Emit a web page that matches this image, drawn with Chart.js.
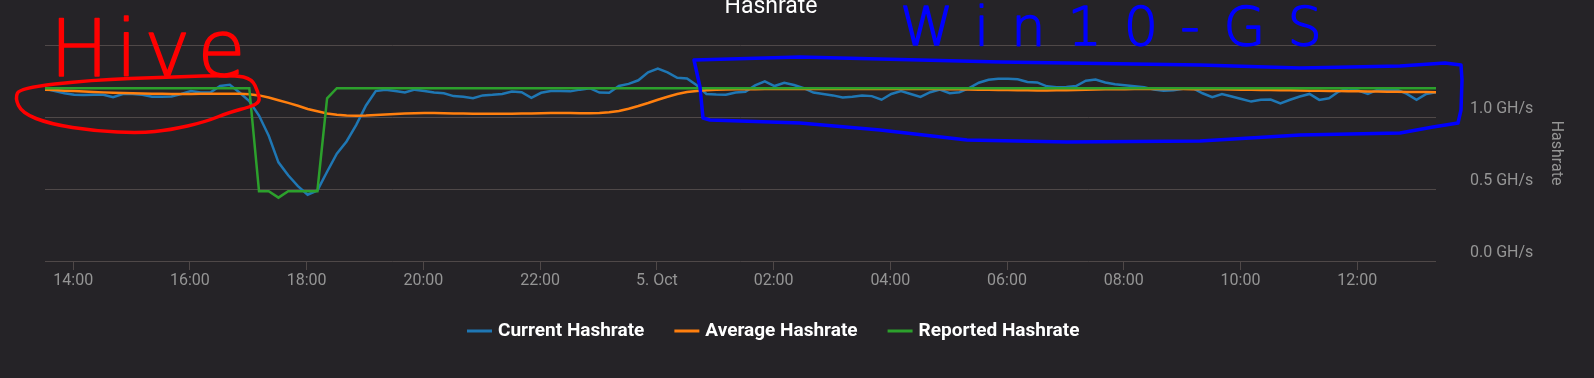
<!DOCTYPE html>
<html>
<head>
<meta charset="utf-8">
<script src="https://cdn.jsdelivr.net/npm/chart.js@4.4.1/dist/chart.umd.min.js"></script>
<style>
  html, body { margin: 0; padding: 0; background: #252327; }
  #wrap { width: 1594px; height: 378px; position: relative; }
</style>
</head>
<body>
<div id="wrap"><canvas id="hashChart"></canvas></div>
<script>
// samples every 10 minutes, first one at 13:31 (hours since 4 Oct 00:00)
const startHour = 13 + 31 / 60;
const stepHours = 10 / 60;

const currentHashrate = [
  1.196, 1.18, 1.165, 1.155, 1.152, 1.155, 1.155, 1.138, 1.16, 1.16,
  1.155, 1.14, 1.14, 1.142, 1.16, 1.18, 1.17, 1.17, 1.215, 1.224,
  1.17, 1.11, 1.01, 0.87, 0.685, 0.595, 0.52, 0.46, 0.49, 0.62,
  0.745, 0.83, 0.945, 1.08, 1.18, 1.19, 1.18, 1.17, 1.19, 1.18,
  1.17, 1.165, 1.145, 1.14, 1.13, 1.15, 1.154, 1.16, 1.177, 1.172,
  1.133, 1.168, 1.18, 1.18, 1.178, 1.19, 1.2, 1.17, 1.168, 1.215,
  1.23, 1.255, 1.31, 1.336, 1.31, 1.272, 1.268, 1.22, 1.16, 1.156,
  1.154, 1.17, 1.175, 1.219, 1.247, 1.215, 1.238, 1.222, 1.2, 1.17,
  1.16, 1.15, 1.136, 1.14, 1.149, 1.145, 1.12, 1.16, 1.18, 1.16,
  1.14, 1.172, 1.19, 1.165, 1.172, 1.2, 1.238, 1.258, 1.265, 1.266,
  1.262, 1.243, 1.24, 1.213, 1.206, 1.208, 1.215, 1.252, 1.26, 1.24,
  1.228, 1.22, 1.213, 1.206, 1.19, 1.182, 1.185, 1.196, 1.2, 1.165,
  1.138, 1.16, 1.142, 1.125, 1.107, 1.12, 1.121, 1.095, 1.12, 1.142,
  1.16, 1.119, 1.13, 1.177, 1.2, 1.184, 1.16, 1.19, 1.19, 1.19,
  1.16, 1.119, 1.16, 1.172
];

const averageHashrate = [
  1.19, 1.187, 1.183, 1.18, 1.177, 1.174, 1.171, 1.169, 1.167, 1.165,
  1.164, 1.162, 1.161, 1.16, 1.16, 1.16, 1.161, 1.162, 1.162, 1.162,
  1.161, 1.158, 1.15, 1.135, 1.116, 1.098, 1.078, 1.056, 1.04, 1.025,
  1.015, 1.01, 1.008, 1.01, 1.014, 1.018, 1.021, 1.024, 1.026, 1.027,
  1.028, 1.026, 1.025, 1.024, 1.023, 1.022, 1.022, 1.022, 1.023, 1.024,
  1.025, 1.026, 1.027, 1.027, 1.027, 1.026, 1.026, 1.028, 1.033, 1.042,
  1.057, 1.076, 1.097, 1.12, 1.141, 1.16, 1.173, 1.181, 1.186, 1.189,
  1.191, 1.192, 1.193, 1.193, 1.194, 1.194, 1.194, 1.195, 1.195, 1.195,
  1.195, 1.195, 1.195, 1.195, 1.195, 1.195, 1.195, 1.195, 1.195, 1.195,
  1.195, 1.194, 1.194, 1.193, 1.192, 1.191, 1.19, 1.189, 1.188, 1.187,
  1.186, 1.185, 1.184, 1.184, 1.185, 1.186, 1.188, 1.19, 1.191, 1.192,
  1.193, 1.193, 1.194, 1.194, 1.194, 1.194, 1.194, 1.194, 1.193, 1.193,
  1.192, 1.192, 1.191, 1.19, 1.189, 1.188, 1.187, 1.186, 1.185, 1.184,
  1.183, 1.182, 1.181, 1.18, 1.179, 1.178, 1.177, 1.177, 1.176, 1.175,
  1.174, 1.173, 1.173, 1.172
];

const reportedHashrate = [
  1.2, 1.2, 1.2, 1.2, 1.2, 1.2, 1.2, 1.2, 1.2, 1.2,
  1.2, 1.2, 1.2, 1.2, 1.2, 1.2, 1.2, 1.2, 1.2, 1.2,
  1.2, 1.2, 0.485, 0.485, 0.44, 0.485, 0.485, 0.485, 0.485, 1.13,
  1.2, 1.2, 1.2, 1.2, 1.2, 1.2, 1.2, 1.2, 1.2, 1.2,
  1.2, 1.2, 1.2, 1.2, 1.2, 1.2, 1.2, 1.2, 1.2, 1.2,
  1.2, 1.2, 1.2, 1.2, 1.2, 1.2, 1.2, 1.2, 1.2, 1.2,
  1.2, 1.2, 1.2, 1.2, 1.2, 1.2, 1.2, 1.2, 1.2, 1.2,
  1.2, 1.2, 1.2, 1.2, 1.2, 1.2, 1.2, 1.2, 1.2, 1.2,
  1.2, 1.2, 1.2, 1.2, 1.2, 1.2, 1.2, 1.2, 1.2, 1.2,
  1.2, 1.2, 1.2, 1.2, 1.2, 1.2, 1.2, 1.2, 1.2, 1.2,
  1.2, 1.2, 1.2, 1.2, 1.2, 1.2, 1.2, 1.2, 1.2, 1.2,
  1.2, 1.2, 1.2, 1.2, 1.2, 1.2, 1.2, 1.2, 1.2, 1.2,
  1.2, 1.2, 1.2, 1.2, 1.2, 1.2, 1.2, 1.2, 1.2, 1.2,
  1.2, 1.2, 1.2, 1.2, 1.2, 1.2, 1.2, 1.2, 1.2, 1.2,
  1.2, 1.2, 1.2, 1.2
];

const tickHours = [14, 16, 18, 20, 22, 24, 26, 28, 30, 32, 34, 36];
const tickLabels = ['14:00', '16:00', '18:00', '20:00', '22:00', '5. Oct',
                    '02:00', '04:00', '06:00', '08:00', '10:00', '12:00'];

const times = currentHashrate.map((v, i) => startHour + i * stepHours);
const toPoints = arr => arr.map((v, i) => ({ x: times[i], y: v }));

const gridColor = '#4f4848';
const labelColor = '#959595';

// hand drawn marks on top of the chart
const hiveLoop = [[20, 88], [90, 80], [170, 77], [235, 75], [252, 79], [258, 92], [260, 102],
  [250, 107], [230, 112], [205, 122], [170, 130], [140, 133], [95, 131], [50, 124], [22, 113], [15, 98]];
const winBox = [[694, 60], [800, 57], [1000, 62], [1200, 65], [1300, 68], [1400, 66], [1445, 63],
  [1461, 65], [1462, 80], [1461, 110], [1458, 123], [1433, 127], [1400, 133], [1300, 135],
  [1200, 141], [1067, 142], [967, 140], [880, 130], [800, 123], [710, 120], [703, 118], [700, 87], [694, 60]];

const smoothClosed = (ctx, pts) => {
  const n = pts.length;
  const mid = (a, b) => [(a[0] + b[0]) / 2, (a[1] + b[1]) / 2];
  let m = mid(pts[n - 1], pts[0]);
  ctx.beginPath();
  ctx.moveTo(m[0], m[1]);
  for (let i = 0; i < n; i++) {
    const p = pts[i];
    const q = mid(p, pts[(i + 1) % n]);
    ctx.quadraticCurveTo(p[0], p[1], q[0], q[1]);
  }
  ctx.closePath();
  ctx.stroke();
};

const backgroundPlugin = {
  id: 'bg',
  beforeDraw(chart) {
    const ctx = chart.ctx;
    ctx.save();
    ctx.fillStyle = '#252327';
    ctx.fillRect(0, 0, chart.width, chart.height);
    ctx.restore();
  }
};

const sketchPlugin = {
  id: 'sketch',
  afterDraw(chart) {
    const ctx = chart.ctx;
    ctx.save();
    // title (top is cut off in the screenshot)
    ctx.fillStyle = '#ffffff';
    ctx.font = '23px Roboto';
    ctx.textAlign = 'center';
    ctx.fillText('Hashrate', 771, 13);

    ctx.textAlign = 'left';
    ctx.lineJoin = 'round';
    ctx.lineCap = 'round';

    // red: Hive
    ctx.strokeStyle = '#ff0000';
    ctx.fillStyle = '#ff0000';
    ctx.lineWidth = 3.5;
    smoothClosed(ctx, hiveLoop);
    ctx.font = '200 78px "DejaVu Sans"';
    ctx.letterSpacing = '7px';
    ctx.lineWidth = 1.5;
    ctx.fillText('Hive', 50, 76);
    ctx.strokeText('Hive', 50, 76);

    // blue: Win10-GS
    ctx.strokeStyle = '#0000ff';
    ctx.fillStyle = '#0000ff';
    ctx.lineWidth = 3.5;
    ctx.beginPath();
    winBox.forEach((p, i) => i ? ctx.lineTo(p[0], p[1]) : ctx.moveTo(p[0], p[1]));
    ctx.stroke();
    ctx.font = '200 54px "DejaVu Sans"';
    ctx.letterSpacing = '22px';
    ctx.lineWidth = 1.5;
    ctx.fillText('Win10-GS', 900, 45);
    ctx.strokeText('Win10-GS', 900, 45);
    ctx.restore();
  }
};

const legendPlugin = {
  id: 'bottomLegend',
  afterDraw(chart) {
    const ctx = chart.ctx;
    const y = 331;
    let x = 467;
    ctx.save();
    ctx.font = 'bold 19px Roboto';
    ctx.textBaseline = 'middle';
    ctx.fillStyle = '#ffffff';
    chart.data.datasets.forEach(ds => {
      ctx.strokeStyle = ds.borderColor;
      ctx.lineWidth = 3;
      ctx.beginPath();
      ctx.moveTo(x, y);
      ctx.lineTo(x + 25, y);
      ctx.stroke();
      x += 31;
      ctx.fillText(ds.label, x, y);
      x += ctx.measureText(ds.label).width + 30;
    });
    ctx.restore();
  }
};

const ctx = document.getElementById('hashChart').getContext('2d');
const chart = new Chart(ctx, {
  type: 'line',
  data: {
    datasets: [
      { label: 'Current Hashrate', data: toPoints(currentHashrate), borderColor: '#1f77b4', order: 3 },
      { label: 'Average Hashrate', data: toPoints(averageHashrate), borderColor: '#ff7f0e', order: 2 },
      { label: 'Reported Hashrate', data: toPoints(reportedHashrate), borderColor: '#2ca02c', order: 1 }
    ]
  },
  options: {
    responsive: true,
    maintainAspectRatio: false,
    animation: false,
    layout: { padding: { top: 45, left: 45, right: 0, bottom: 0 } },
    elements: {
      line: { borderWidth: 2.5, tension: 0 },
      point: { radius: 0 }
    },
    plugins: {
      legend: { display: false },
      tooltip: { enabled: false }
    },
    scales: {
      x: {
        type: 'linear',
        min: times[0],
        max: times[times.length - 1],
        afterBuildTicks: scale => { scale.ticks = tickHours.map(v => ({ value: v })); },
        afterFit: scale => { scale.height = 117; },
        grid: { drawOnChartArea: false, drawTicks: true, tickLength: 9, color: gridColor },
        border: { display: false },
        ticks: {
          autoSkip: false,
          maxRotation: 0,
          padding: 1,
          color: labelColor,
          font: { family: 'Roboto', size: 16 },
          callback: (v, i) => tickLabels[i]
        }
      },
      y: {
        position: 'right',
        min: 0,
        max: 1.5,
        afterFit: scale => { scale.width = 158; },
        grid: { color: gridColor, drawTicks: false },
        border: { display: false },
        ticks: {
          stepSize: 0.5,
          padding: 34,
          labelOffset: -8,
          color: labelColor,
          font: { family: 'Roboto', size: 16 },
          callback: v => (v >= 1.5 ? '' : v.toFixed(1) + ' GH/s')
        },
        title: {
          display: true,
          text: 'Hashrate',
          color: labelColor,
          font: { family: 'Roboto', size: 16 },
          padding: { top: 28, bottom: 0 }
        }
      }
    }
  },
  plugins: [backgroundPlugin, sketchPlugin, legendPlugin]
});
</script>
</body>
</html>
